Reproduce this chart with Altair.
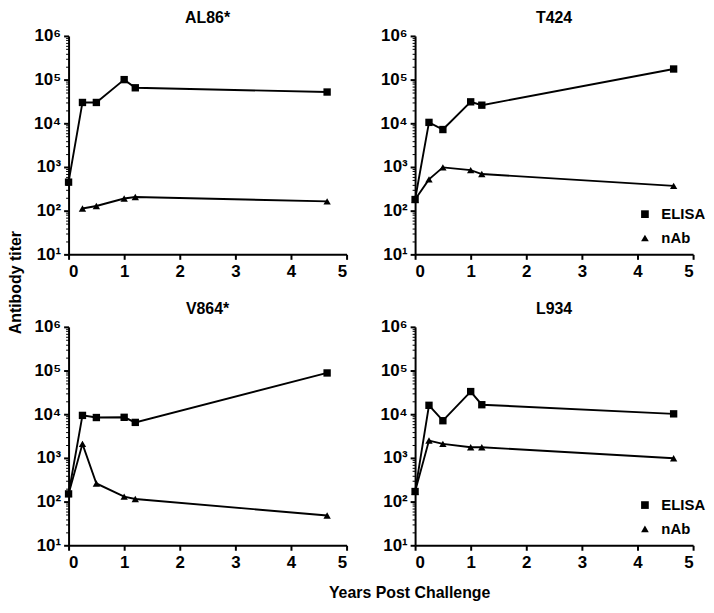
import altair as alt
import pandas as pd

FONT = "Liberation Sans"

years = [0, 0.25, 0.5, 1.0, 1.2, 4.65]
animals = ["AL86*", "T424", "V864*", "L934"]

elisa = {
    "AL86*": [450, 30000, 30000, 100000, 65000, 52000],
    "T424": [180, 10500, 7200, 31000, 26000, 175000],
    "V864*": [150, 9400, 8400, 8500, 6500, 88000],
    "L934": [170, 16000, 7100, 33000, 16500, 10200],
}
nab = {
    "AL86*": [None, 112, 128, 190, 205, 163],
    "T424": [180, 520, 980, 850, 690, 370],
    "V864*": [150, 2100, 260, 130, 115, 48],
    "L934": [170, 2500, 2100, 1750, 1750, 980],
}

assays = ["ELISA", "nAb"]
major_ticks = [10, 100, 1000, 10000, 100000, 1000000]
minor_ticks = [m * 10 ** k for k in range(1, 6) for m in range(2, 10)]
x_ticks = [0, 1, 2, 3, 4, 5]

W, H = 280, 220

sup_expr = "'10' + ['\u2070','\u00b9','\u00b2','\u00b3','\u2074','\u2075','\u2076'][round(log(datum.value)/LN10)]"


def panel(name, show_legend, y_title, x_title):
    rows = []
    for x, e, n in zip(years, elisa[name], nab[name]):
        rows.append({"year": x, "titer": e, "assay": "ELISA"})
        if n is not None:
            rows.append({"year": x, "titer": n, "assay": "nAb"})
    df = pd.DataFrame(rows)

    xs = alt.Scale(domain=[0, 5], nice=False)
    ys = alt.Scale(type="log", domain=[10, 1000000], nice=False)

    xaxis_kw = dict(values=x_ticks, format="d", grid=False, domainColor="black",
                    domainWidth=2, tickColor="black", tickWidth=2, tickSize=5,
                    labelFont=FONT, labelFontSize=17, labelFontWeight="bold",
                    labelColor="black", labelPadding=4)
    if x_title:
        xaxis_kw.update(title="Years Post Challenge", titleX=343, titleY=48,
                        titleFont=FONT, titleFontSize=16, titleFontWeight="bold",
                        titleColor="black", titleAlign="center", titleBaseline="middle")
    else:
        xaxis_kw.update(title=None)
    xaxis = alt.Axis(**xaxis_kw)

    minor_axis = alt.Axis(values=minor_ticks, labels=False, domain=False, grid=False,
                          tickColor="black", tickWidth=1, tickSize=3, title=None,
                          orient="left")
    major_kw = dict(values=major_ticks, labelExpr=sup_expr, grid=False, orient="left",
                    domainColor="black", domainWidth=2, tickColor="black", tickWidth=2,
                    tickSize=5, labelFont=FONT, labelFontSize=17, labelFontWeight="bold",
                    labelColor="black", labelPadding=3)
    if y_title:
        major_kw.update(title="Antibody titer", titleX=-53, titleY=248, titleAngle=-90,
                        titleFont=FONT, titleFontSize=16, titleFontWeight="bold",
                        titleColor="black", titleAlign="center", titleBaseline="middle")
    else:
        major_kw.update(title=None)
    major_axis = alt.Axis(**major_kw)

    if show_legend:
        legend = alt.Legend(title=None, orient="none", legendX=224, legendY=172,
                            labelFont=FONT, labelFontSize=15, labelFontWeight="bold",
                            labelColor="black", symbolFillColor="black",
                            symbolStrokeColor="black", symbolSize=60, rowPadding=8,
                            labelOffset=9, padding=0)
    else:
        legend = None

    line = alt.Chart(df).mark_line(color="black", strokeWidth=1.9).encode(
        x=alt.X("year:Q", scale=xs, axis=xaxis),
        y=alt.Y("titer:Q", scale=ys, axis=minor_axis),
        detail="assay:N",
    )
    pts = alt.Chart(df).mark_point(filled=True, color="black", opacity=1, size=55).encode(
        x=alt.X("year:Q", scale=xs, axis=xaxis),
        y=alt.Y("titer:Q", scale=ys, axis=major_axis),
        shape=alt.Shape("assay:N", scale=alt.Scale(domain=assays, range=["square", "triangle-up"]),
                        legend=legend),
    )
    return alt.layer(line, pts).resolve_axis(y="independent").properties(
        width=W, height=H,
        title=alt.TitleParams(name, anchor="middle", font=FONT, fontSize=16,
                              fontWeight="bold", color="black", offset=1),
    )


p1 = panel("AL86*", False, True, False)
p2 = panel("T424", True, False, False)
p3 = panel("V864*", False, False, True)
p4 = panel("L934", True, False, False)

chart = alt.concat(p1, p2, p3, p4, columns=2, spacing={"row": 73, "column": 69}).properties(
    bounds="flush", padding=0
).resolve_scale(shape="independent").configure_view(stroke=None)

chart.save("out.html", embed_options={"renderer": "svg", "actions": False})
